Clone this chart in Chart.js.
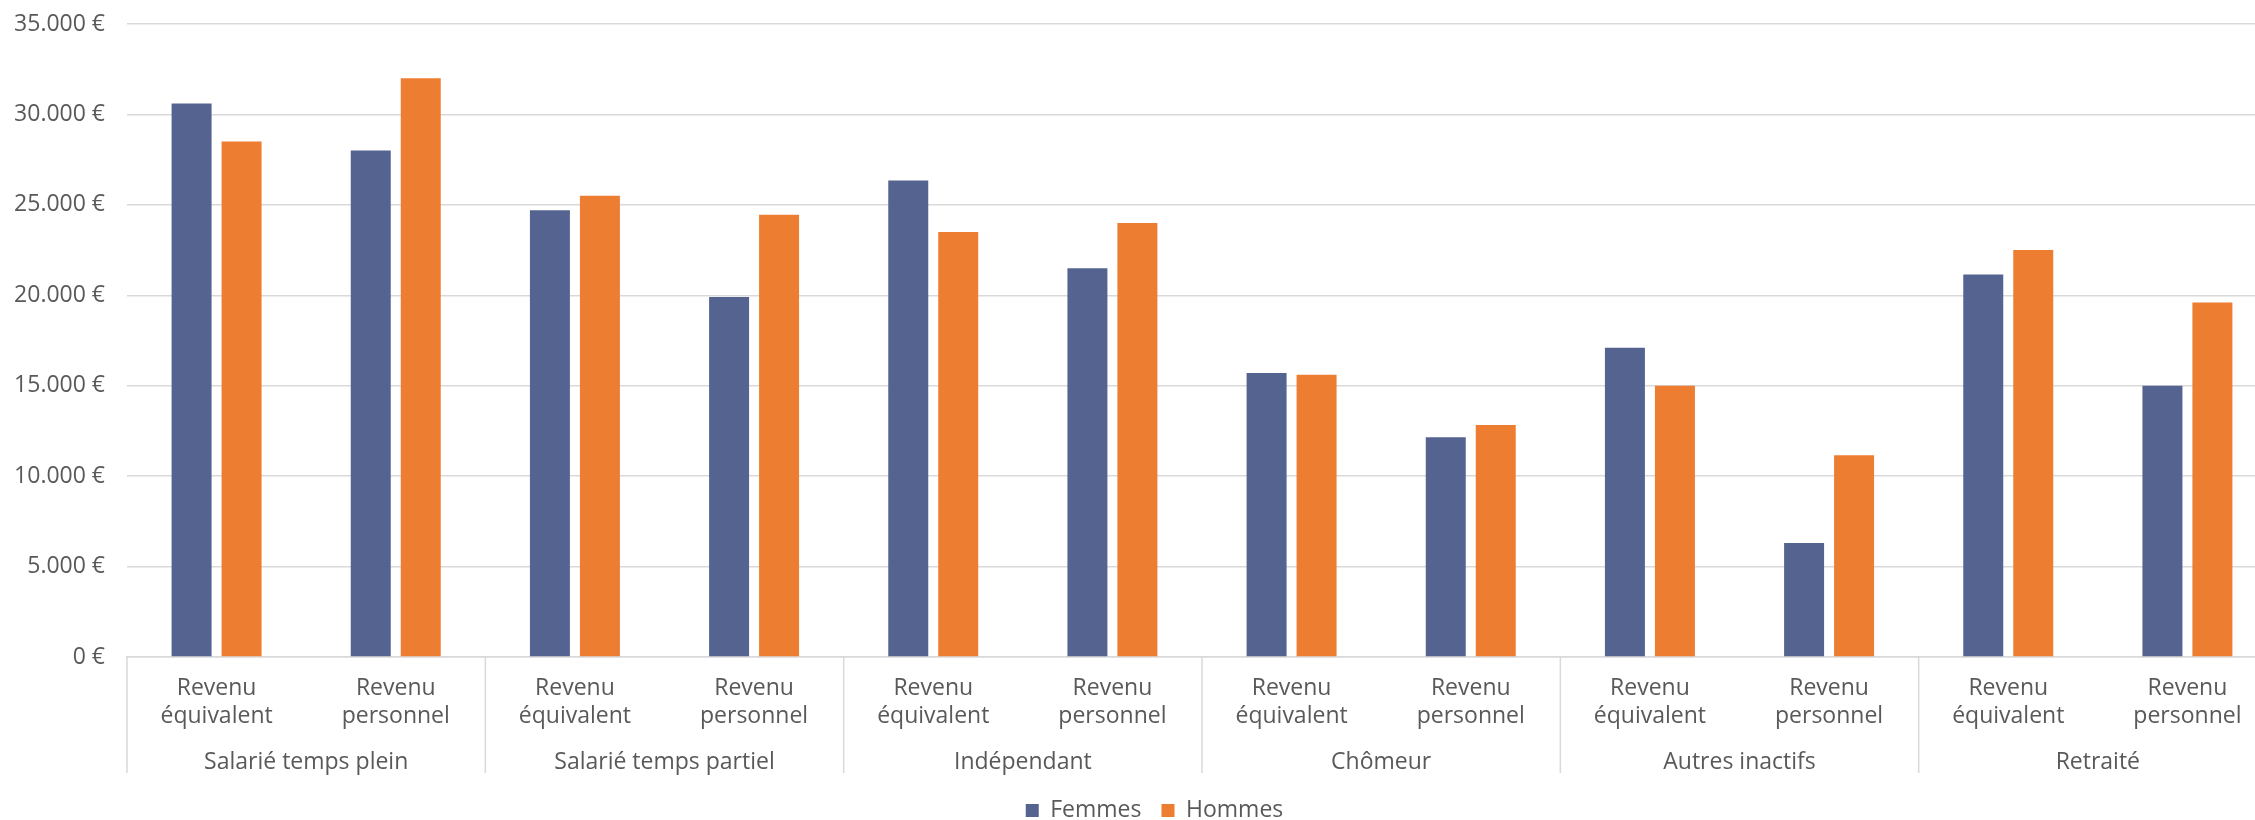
<!DOCTYPE html>
<html>
<head>
<meta charset="utf-8">
<script src="https://cdn.jsdelivr.net/npm/chart.js@4/dist/chart.umd.min.js"></script>
<style>
  html, body { margin: 0; padding: 0; background: #fff; overflow: hidden; }
  #wrap { width: 2309px; height: 832px; }
</style>
</head>
<body>
<div id="wrap"><canvas id="myChart" width="2309" height="832"></canvas></div>
<script>
// categories: 6 groups x 2 income types
const groups = ['Salarié temps plein', 'Salarié temps partiel', 'Indépendant', 'Chômeur', 'Autres inactifs', 'Retraité']
const incomeTypes = [['Revenu', 'équivalent'], ['Revenu', 'personnel']]

// values in euros
const femmes = [30600, 28000, 24700, 19900, 26350, 21500, 15700, 12150, 17100, 6300, 21150, 15000]
const hommes = [28500, 32000, 25500, 24450, 23500, 24000, 15600, 12830, 15000, 11150, 22500, 19600]

const yTicks = { min: 0, max: 35000, step: 5000 }

const grey = '#595959'
const lineGrey = '#d9d9d9'
const fontFamily = "'Open Sans', 'DejaVu Sans', sans-serif"
const fontSize = 23

let labels = []
groups.forEach(() => incomeTypes.forEach(t => labels.push(t)))

function euro(v) {
    return String(v).replace(/\B(?=(\d{3})+(?!\d))/g, '.') + ' €'
}

// group separators under the axis
const groupDividers = {
    id: 'groupDividers',
    afterDraw(chart) {
        const x = chart.scales.x
        const x2 = chart.scales.x2
        const ctx = chart.ctx
        const step = x.getPixelForValue(1) - x.getPixelForValue(0)
        const perGroup = incomeTypes.length
        ctx.save()
        ctx.strokeStyle = lineGrey
        ctx.lineWidth = 1.5
        for (let i = 0; i <= labels.length; i += perGroup) {
            let px = x.getPixelForValue(0) - step / 2 + i * step
            ctx.beginPath()
            ctx.moveTo(px, x.top)
            ctx.lineTo(px, x2.top + 28)
            ctx.stroke()
        }
        ctx.restore()
    }
}

// nudge the legend a bit right, like the original
const legendShift = {
    id: 'legendShift',
    afterLayout(chart) {
        if (!chart.legend) return
        chart.legend.left += 16
        chart.legend.right += 16
    }
}

const ctx = document.getElementById('myChart')

new Chart(ctx, {
    type: 'bar',
    data: {
        labels,
        datasets: [
            { label: 'Femmes', data: femmes, backgroundColor: '#556391', borderWidth: 0, xAxisID: 'x' },
            { label: 'Hommes', data: hommes, backgroundColor: '#ed7d31', borderWidth: 0, xAxisID: 'x' }
        ]
    },
    options: {
        responsive: false,
        animation: false,
        layout: { padding: { top: 24, right: 32, left: 0, bottom: 0 } },
        datasets: {
            bar: { categoryPercentage: 0.558, barPercentage: 0.8 }
        },
        plugins: {
            legend: {
                position: 'bottom',
                labels: {
                    boxWidth: 13,
                    boxHeight: 13,
                    padding: 20,
                    color: grey,
                    font: { family: fontFamily, size: fontSize }
                }
            },
            tooltip: { enabled: false }
        },
        scales: {
            x: {
                type: 'category',
                position: 'bottom',
                grid: { display: false, drawTicks: false },
                border: { display: true, color: lineGrey, width: 1.5 },
                ticks: {
                    color: grey,
                    font: { family: fontFamily, size: fontSize, lineHeight: 28 / fontSize },
                    padding: 17,
                    maxRotation: 0,
                    autoSkip: false
                },
                afterFit(s) { s.height = 88 }
            },
            x2: {
                type: 'category',
                position: 'bottom',
                labels: groups,
                offset: true,
                grid: { display: false, drawTicks: false },
                border: { display: false },
                ticks: {
                    color: grey,
                    font: { family: fontFamily, size: fontSize, lineHeight: 28 / fontSize },
                    padding: 3,
                    maxRotation: 0,
                    autoSkip: false
                },
                afterFit(s) { s.height = 34 }
            },
            y: {
                min: yTicks.min,
                max: yTicks.max,
                grid: { color: lineGrey, lineWidth: 1.5, drawTicks: false },
                border: { display: false },
                ticks: {
                    stepSize: yTicks.step,
                    color: grey,
                    padding: 22,
                    font: { family: fontFamily, size: fontSize },
                    callback: (v) => euro(v)
                },
                afterFit(s) {
                    s.width = 127
                    s.paddingTop = 0
                    s.paddingBottom = 0
                }
            }
        }
    },
    plugins: [groupDividers, legendShift]
})
</script>
</body>
</html>
